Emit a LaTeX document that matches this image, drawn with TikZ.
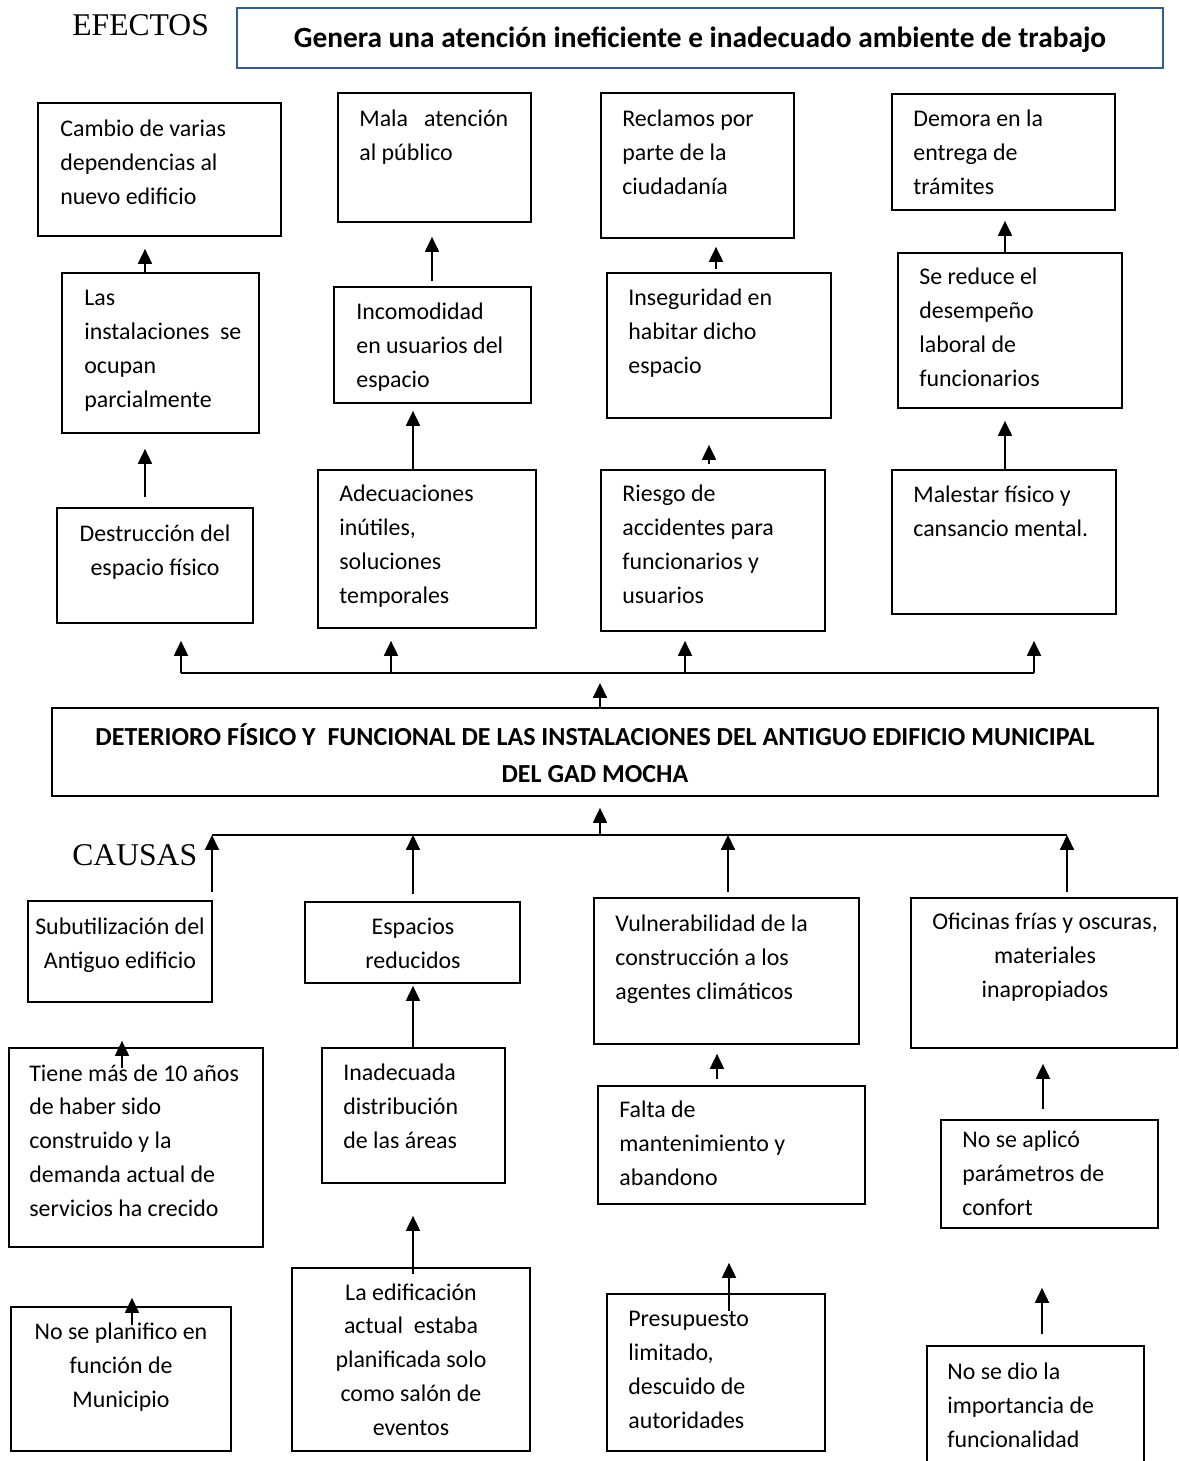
\documentclass[tikz,border=0pt]{standalone}
\usepackage{fontspec}
\setmainfont{Carlito}
\newfontfamily\headfont{Liberation Serif}
\usetikzlibrary{arrows.meta,fit}
\definecolor{framecol}{HTML}{385D8A}
\tikzset{
  box/.style={draw, line width=1pt, inner sep=0pt},
  txt/.style={font=\fontsize{13.6}{19.2}\selectfont, align=left, inner sep=0pt},
  ctxt/.style={txt, align=center},
  head/.style={font=\headfont\fontsize{18}{20}\selectfont, inner sep=0pt, anchor=base west},
  arr/.style={-{Triangle[width=8pt,length=8.5pt]}, line width=0.9pt},
  bus/.style={line width=0.9pt}
}
\begin{document}
\begin{tikzpicture}[x=0.02cm,y=-0.02cm]
\useasboundingbox (0,0) rectangle (1179,1461);

\node[head] (efectos) at (72,35) {EFECTOS};
\node[box, draw=framecol, line width=1.3pt, fit={(237,8) (1163,68)}] (gen) {};
\node[txt, font=\bfseries\fontsize{16.7}{20}\selectfont, anchor=base] (gent) at (700,47) {Genera una atención ineficiente e inadecuado ambiente de trabajo};

\node[box, fit={(38,103) (281,236)}] (e1) {};
\node[txt, anchor=base west] (e1t) at (60,204) {Cambio de varias\\dependencias al\\nuevo edificio};
\node[box, fit={(338,93) (531,222)}] (e2) {};
\node[txt, anchor=base west] (e2t) at (359,160) {Mala\hspace{6pt} atención\\al público};
\node[box, fit={(601,93) (794,238)}] (e3) {};
\node[txt, anchor=base west] (e3t) at (622,194) {Reclamos por\\parte de la\\ciudadanía};
\node[box, fit={(892,94) (1115,210)}] (e4) {};
\node[txt, anchor=base west] (e4t) at (913,194) {Demora en la\\entrega de\\trámites};

\node[box, fit={(62,273) (259,433)}] (e5) {};
\node[txt, anchor=base west] (e5t) at (84,407) {Las\\instalaciones\hspace{3pt} se\\ocupan\\parcialmente};
\node[box, fit={(334,287) (531,403)}] (e6) {};
\node[txt, anchor=base west] (e6t) at (356,387) {Incomodidad\\en usuarios del\\espacio};
\node[box, fit={(607,273) (831,418)}] (e7) {};
\node[txt, anchor=base west] (e7t) at (628,373) {Inseguridad en\\habitar dicho\\espacio};
\node[box, fit={(898,253) (1122,408)}] (e8) {};
\node[txt, anchor=base west] (e8t) at (919,386) {Se reduce el\\desempeño\\laboral de\\funcionarios};

\node[box, fit={(57,508) (253,623)}] (e9) {};
\node[ctxt, anchor=base] (e9t) at (155,575) {Destrucción del\\espacio físico};
\node[box, fit={(318,470) (536,628)}] (e10) {};
\node[txt, anchor=base west] (e10t) at (339,603) {Adecuaciones\\inútiles,\\soluciones\\temporales};
\node[box, fit={(601,470) (825,631)}] (e11) {};
\node[txt, anchor=base west] (e11t) at (622,603) {Riesgo de\\accidentes para\\funcionarios y\\usuarios};
\node[box, fit={(892,470) (1116,614)}] (e12) {};
\node[txt, anchor=base west] (e12t) at (913,536) {Malestar físico y\\cansancio mental.};

\node[box, fit={(52,708) (1158,796)}] (mid) {};
\node[ctxt, font=\bfseries\fontsize{14.8}{21}\selectfont, anchor=base] (midt) at (595,782) {DETERIORO FÍSICO Y\ \ FUNCIONAL DE LAS INSTALACIONES DEL ANTIGUO EDIFICIO MUNICIPAL\\DEL GAD MOCHA};

\node[head] (causas) at (72,865) {CAUSAS};

\node[box, fit={(28,901) (212,1002)}] (c1) {};
\node[ctxt, anchor=base] (c1t) at (120,968) {Subutilización del\\Antiguo edificio};
\node[box, fit={(305,902) (520,983)}] (c2) {};
\node[ctxt, anchor=base] (c2t) at (413,968) {Espacios\\reducidos};
\node[box, fit={(594,898) (859,1044)}] (c3) {};
\node[txt, anchor=base west] (c3t) at (615,999) {Vulnerabilidad de la\\construcción a los\\agentes climáticos};
\node[box, fit={(911,898) (1177,1048)}] (c4) {};
\node[ctxt, anchor=base] (c4t) at (1045,997) {Oficinas frías y oscuras,\\materiales\\inapropiados};

\node[box, fit={(9,1048) (263,1247)}] (c5) {};
\node[txt, anchor=base west] (c5t) at (29,1216) {Tiene más de 10 años\\de haber sido\\construido y la\\demanda actual de\\servicios ha crecido};
\node[box, fit={(322,1048) (505,1183)}] (c6) {};
\node[txt, anchor=base west] (c6t) at (343,1148) {Inadecuada\\distribución\\de las áreas};
\node[box, fit={(598,1086) (865,1204)}] (c7) {};
\node[txt, anchor=base west] (c7t) at (619,1185) {Falta de\\mantenimiento y\\abandono};
\node[box, fit={(941,1120) (1158,1228)}] (c8) {};
\node[txt, anchor=base west] (c8t) at (962,1215) {No se aplicó\\parámetros de\\confort};

\node[box, fit={(11,1307) (231,1451)}] (c9) {};
\node[ctxt, anchor=base] (c9t) at (121,1407) {No se planifico en\\función de\\Municipio};
\node[box, fit={(292,1268) (530,1451)}] (c10) {};
\node[ctxt, anchor=base] (c10t) at (411,1435) {La edificación\\actual\ \ estaba\\planificada solo\\como salón de\\eventos};
\node[box, fit={(607,1294) (825,1451)}] (c11) {};
\node[txt, anchor=base west] (c11t) at (628,1428) {Presupuesto\\limitado,\\descuido de\\autoridades};
\node[box, fit={(927,1346) (1144,1480)}] (c12) {};
\node[txt, anchor=base west] (c12t) at (947,1447) {No se dio la\\importancia de\\funcionalidad};

\draw[arr, shorten <=0.2cm, shorten >=0.3cm] (e9.north -| 145,0) -- (e5.south -| 145,0);
\draw[arr, shorten >=0.14cm] (e10.north -| 413,0) -- (e6.south -| 413,0);
\draw[arr, shorten <=0.1cm, shorten >=0.52cm] (e11.north -| 709,0) -- (e7.south -| 709,0);
\draw[arr, shorten >=0.24cm] (e12.north -| 1005,0) -- (e8.south -| 1005,0);
\draw[arr, shorten >=0.24cm] (e5.north -| 145,0) -- (e1.south -| 145,0);
\draw[arr, shorten <=0.1cm, shorten >=0.28cm] (e6.north -| 432,0) -- (e2.south -| 432,0);
\draw[arr, shorten <=0.06cm, shorten >=0.16cm] (e7.north -| 716,0) -- (e3.south -| 716,0);
\draw[arr, shorten >=0.2cm] (e8.north -| 1005,0) -- (e4.south -| 1005,0);

\coordinate (el) at (181,673);
\coordinate (er) at (1034,673);
\draw[bus] (el) -- (er);
\draw[arr, shorten >=0.2cm] (mid.north -| 600,0) -- (el -| 600,0);
\draw[arr, shorten >=0.34cm] (el) -- (el |- e9.south);
\draw[arr, shorten >=0.24cm] (el -| 391,0) -- (e10.south -| 391,0);
\draw[arr, shorten >=0.18cm] (el -| 685,0) -- (e11.south -| 685,0);
\draw[arr, shorten >=0.52cm] (er) -- (er |- e12.south);

\coordinate (cl) at (212,835);
\coordinate (cr) at (1067,835);
\draw[bus] (cl) -- (cr);
\draw[arr, shorten >=0.22cm] (cl -| 600,0) -- (mid.south -| 600,0);
\draw[arr, shorten <=0.16cm] (c1.north -| cl) -- (cl);
\draw[arr, shorten <=0.14cm] (c2.north -| 413,0) -- (cl -| 413,0);
\draw[arr, shorten <=0.1cm] (c3.north -| 728,0) -- (cl -| 728,0);
\draw[arr, shorten <=0.1cm] (c4.north -| cr) -- (cr);

\coordinate (c5a) at (122,1068);
\coordinate (c9a) at (132,1325);
\draw[arr, shorten >=0.76cm] (c5a) -- (c1.south -| c5a);
\draw[arr, shorten >=0.04cm] (c6.north -| 413,0) -- (c2.south -| 413,0);
\draw[arr, shorten <=0.12cm, shorten >=0.18cm] (c7.north -| 717,0) -- (c3.south -| 717,0);
\draw[arr, shorten <=0.2cm, shorten >=0.3cm] (c8.north -| 1043,0) -- (c4.south -| 1043,0);
\draw[arr, shorten >=1cm] (c9a) -- (c5.south -| c9a);
\draw[arr, shorten <=-0.14cm, shorten >=0.64cm] (c10.north -| 413,0) -- (c6.south -| 413,0);
\draw[arr, shorten <=-0.36cm, shorten >=1.16cm] (c11.north -| 729,0) -- (c7.south -| 729,0);
\draw[arr, shorten <=0.22cm, shorten >=1.18cm] (c12.north -| 1042,0) -- (c8.south -| 1042,0);
\end{tikzpicture}
\end{document}
